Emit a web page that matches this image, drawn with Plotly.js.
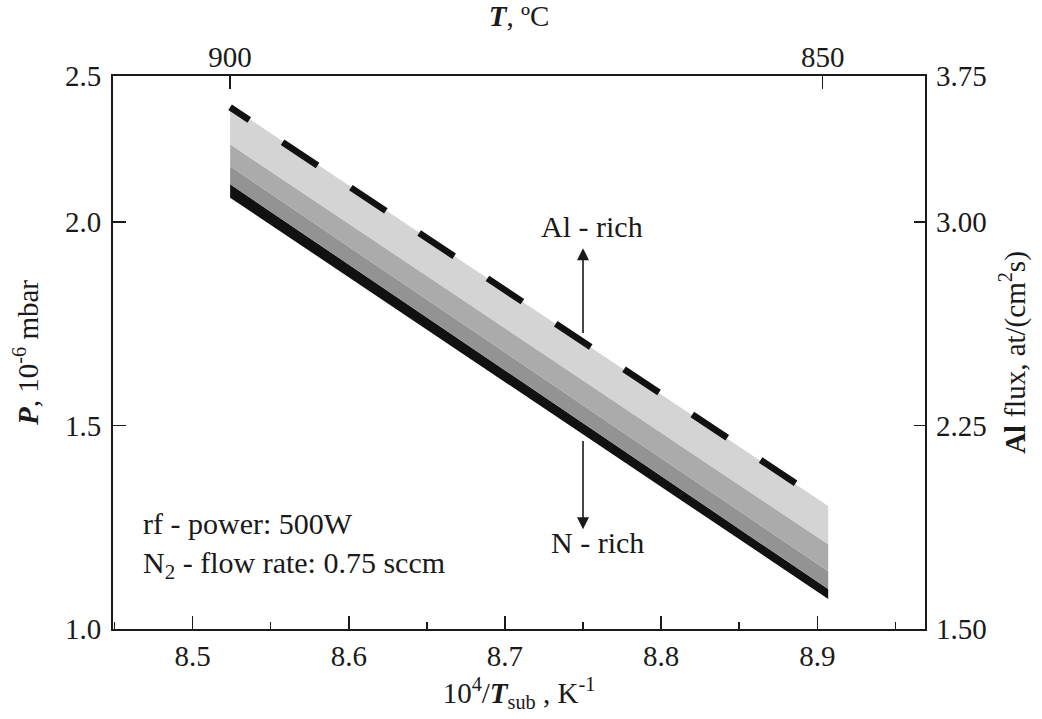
<!DOCTYPE html>
<html>
<head>
<meta charset="utf-8">
<script src="https://cdn.plot.ly/plotly-3.0.1.min.js"></script>
<style>html,body{margin:0;padding:0;background:#fff;}#chart{width:1042px;height:719px;}</style>
</head>
<body>
<div id="chart"></div>
<script>
// x positions (10^4/T_sub, K^-1) of the band ends: 900 °C and ~849 °C
const xEnds = [8.524, 8.907];
// P (10^-6 mbar) at each end for the band boundaries, top to bottom
const dashedLine   = [2.282, 1.305];
const lightTop     = [2.285, 1.302];
const lightBottom  = [2.191, 1.208];
const mediumBottom = [2.137, 1.142];
const darkBottom   = [2.093, 1.098];
const blackBottom  = [2.060, 1.074];

// axis tick definitions
const xTickVals = [8.5, 8.6, 8.7, 8.8, 8.9];
const topTickVals = [8.524, 8.9035];      // 10^4/T for 900 °C and 850 °C
const topTickText = ['900', '850'];
const leftTickVals = [1.0, 1.5, 2.0, 2.359];
const leftTickText = ['1.0', '1.5', '2.0', '2.5'];
const rightTickVals = [1.5, 2.25, 3.0, 3.5385];
const rightTickText = ['1.50', '2.25', '3.00', '3.75'];

const FONT = 'Liberation Serif, Times New Roman, serif';
const INK = '#1a1a1a';
const TICKFONT = {family: FONT, size: 29, color: INK};
const TITLEFONT = {family: FONT, size: 29, color: INK};
const NOTEFONT = {family: FONT, size: 30, color: INK};

function band(y, color) {
  return {x: xEnds, y: y, mode: 'lines', line: {width: 0, color: color},
          fill: 'tonexty', fillcolor: color, hoverinfo: 'skip', showlegend: false};
}

const dashPattern = ['23px', '40px'];
for (let i = 0; i < 10; i++) { dashPattern.push('42px', '40px'); }

const traces = [
  {x: xEnds, y: blackBottom, mode: 'lines', line: {width: 0}, hoverinfo: 'skip', showlegend: false},
  band(darkBottom, '#111111'),
  band(mediumBottom, '#939393'),
  band(lightBottom, '#ababab'),
  band(lightTop, '#d4d4d4'),
  {x: xEnds, y: dashedLine, mode: 'lines',
   line: {width: 6.5, color: '#111111', dash: dashPattern.join(',')},
   hoverinfo: 'skip', showlegend: false},
  {x: [], y: [], xaxis: 'x2', yaxis: 'y2', mode: 'lines', showlegend: false, hoverinfo: 'skip'}
];

const xr = [8.449, 8.969];

const layout = {
  width: 1042, height: 719,
  margin: {l: 113, r: 117, t: 76, b: 90},
  paper_bgcolor: '#ffffff', plot_bgcolor: '#ffffff',
  font: {family: FONT, size: 29, color: INK},
  showlegend: false,
  xaxis: {
    range: xr, tickmode: 'array', tickvals: xTickVals, tickformat: '.1f',
    tickfont: TICKFONT, ticklabelstandoff: 0,
    ticks: 'inside', ticklen: 13, tickwidth: 1.5, tickcolor: INK,
    minor: {dtick: 0.05, tick0: 8.45, ticks: 'inside', ticklen: 7, tickwidth: 1.5, tickcolor: INK},
    showline: true, linewidth: 2, linecolor: INK, mirror: true,
    showgrid: false, zeroline: false,
    title: {text: '10<sup>4</sup>/<b><i>T</i></b><sub>sub</sub> , K<sup>-1</sup>', font: TITLEFONT, standoff: 12}
  },
  xaxis2: {
    overlaying: 'x', side: 'top', range: xr,
    tickmode: 'array', tickvals: topTickVals, ticktext: topTickText,
    tickfont: TICKFONT, ticklabelstandoff: 2,
    ticks: 'inside', ticklen: 13, tickwidth: 1.5, tickcolor: INK,
    showline: false, showgrid: false, zeroline: false,
    title: {text: '<b><i>T</i></b>, ºC', font: TITLEFONT, standoff: 8}
  },
  yaxis: {
    range: [1.0, 2.359], tickmode: 'array', tickvals: leftTickVals, ticktext: leftTickText,
    tickfont: TICKFONT, ticklabelstandoff: 4,
    ticks: 'inside', ticklen: 13, tickwidth: 1.5, tickcolor: INK,
    showline: true, linewidth: 2, linecolor: INK, mirror: true,
    showgrid: false, zeroline: false,
    title: {text: '<b><i>P</i></b>, 10<sup>-6</sup> mbar', font: TITLEFONT, standoff: 18}
  },
  yaxis2: {
    overlaying: 'y', side: 'right', range: [1.5, 3.5385],
    tickmode: 'array', tickvals: rightTickVals, ticktext: rightTickText,
    tickfont: TICKFONT, ticklabelstandoff: 10,
    ticks: 'inside', ticklen: 11, tickwidth: 1.5, tickcolor: INK,
    showline: false, showgrid: false, zeroline: false,
    title: {text: '<b>Al</b> flux, at/(cm<sup>2</sup>s)', font: TITLEFONT, standoff: 18}
  },
  annotations: [
    {x: 8.75, y: 1.936, ax: 8.75, ay: 1.724, axref: 'x', ayref: 'y', xref: 'x', yref: 'y',
     text: '', showarrow: true, arrowhead: 2, arrowsize: 1.5, arrowwidth: 1.6, arrowcolor: INK},
    {x: 8.75, y: 1.245, ax: 8.75, ay: 1.466, axref: 'x', ayref: 'y', xref: 'x', yref: 'y',
     text: '', showarrow: true, arrowhead: 2, arrowsize: 1.5, arrowwidth: 1.6, arrowcolor: INK},
    {x: 8.756, y: 1.988, xref: 'x', yref: 'y', text: 'Al - rich', showarrow: false,
     font: NOTEFONT, xanchor: 'center', yanchor: 'middle'},
    {x: 8.759, y: 1.212, xref: 'x', yref: 'y', text: 'N - rich', showarrow: false,
     font: NOTEFONT, xanchor: 'center', yanchor: 'middle'},
    {x: 0.035, y: 0.191, xref: 'paper', yref: 'paper', text: 'rf - power: 500W', showarrow: false,
     font: NOTEFONT, xanchor: 'left', yanchor: 'middle'},
    {x: 0.035, y: 0.115, xref: 'paper', yref: 'paper', text: 'N<sub>2</sub> - flow rate: 0.75 sccm', showarrow: false,
     font: NOTEFONT, xanchor: 'left', yanchor: 'middle'}
  ]
};

Plotly.newPlot('chart', traces, layout, {staticPlot: true, displayModeBar: false});
</script>
</body>
</html>
